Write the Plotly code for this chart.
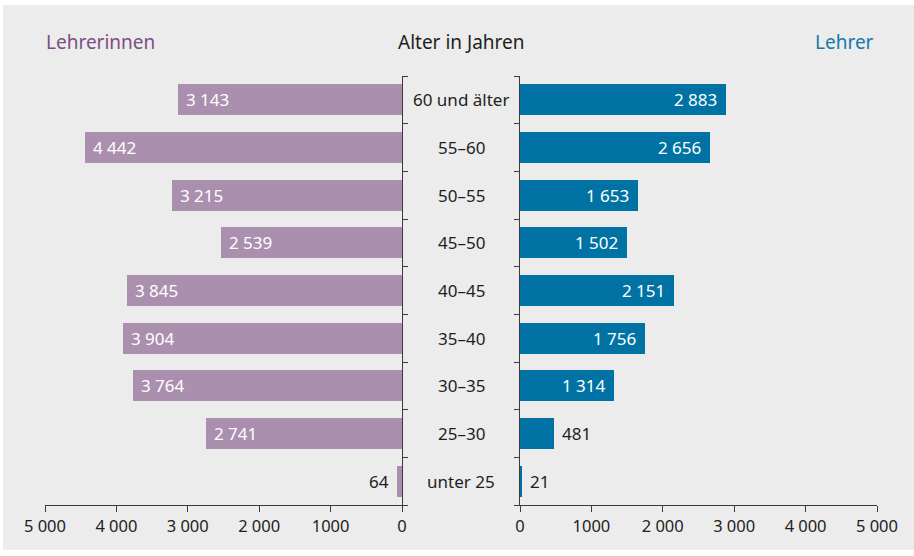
import plotly.graph_objects as go

W, H = 914, 556

categories = ["60 und älter", "55–60", "50–55", "45–50", "40–45", "35–40", "30–35", "25–30", "unter 25"]
women = [3143, 4442, 3215, 2539, 3845, 3904, 3764, 2741, 64]
men = [2883, 2656, 1653, 1502, 2151, 1756, 1314, 481, 21]
tick_vals = [0, 1000, 2000, 3000, 4000, 5000]
tick_text = ["0", "1000", "2\u2005000", "3\u2005000", "4\u2005000", "5\u2005000"]

FONT = "Noto Sans"
PURPLE = "#ab8fae"
BLUE = "#0073a4"
PURPLE_TXT = "#7b4f83"
BLUE_TXT = "#1679a8"
DARK = "#1e1e1e"
AXIS = "#3a3a3a"
BG = "#ebeceb"

def fmt(v):
    return f"{v:,}".replace(",", "\u2005")

ypos = list(range(len(categories)))

def px(x):
    return x / W

def py(y):
    return 1 - y / H

fig = go.Figure()
fig.add_trace(go.Bar(x=women, y=ypos, orientation="h", marker=dict(color=PURPLE, line=dict(width=0)),
                     width=0.65, xaxis="x", yaxis="y", hoverinfo="skip"))
fig.add_trace(go.Bar(x=men, y=ypos, orientation="h", marker=dict(color=BLUE, line=dict(width=0)),
                     width=0.65, xaxis="x2", yaxis="y2", hoverinfo="skip"))

annotations = []
for i, (c, w, m) in enumerate(zip(categories, women, men)):
    annotations.append(dict(x=px(461), xref="paper", y=i, yref="y", text=c, showarrow=False,
                            xanchor="center", yanchor="middle", font=dict(family=FONT, size=17, color=DARK)))
    if w >= 1000:
        annotations.append(dict(x=w, xref="x", y=i, yref="y", text=fmt(w), showarrow=False,
                                xanchor="left", yanchor="middle", xshift=6,
                                font=dict(family=FONT, size=17, color="white")))
    else:
        annotations.append(dict(x=w, xref="x", y=i, yref="y", text=fmt(w), showarrow=False,
                                xanchor="right", yanchor="middle", xshift=-6,
                                font=dict(family=FONT, size=17, color=DARK)))
    if m >= 1000:
        annotations.append(dict(x=m, xref="x2", y=i, yref="y2", text=fmt(m), showarrow=False,
                                xanchor="right", yanchor="middle", xshift=-7,
                                font=dict(family=FONT, size=17, color="white")))
    else:
        annotations.append(dict(x=m, xref="x2", y=i, yref="y2", text=fmt(m), showarrow=False,
                                xanchor="left", yanchor="middle", xshift=6,
                                font=dict(family=FONT, size=17, color=DARK)))

annotations += [
    dict(x=px(44), xref="paper", y=py(42), yref="paper", text="Lehrerinnen", showarrow=False,
         xanchor="left", yanchor="middle", font=dict(family=FONT, size=19, color=PURPLE_TXT)),
    dict(x=px(461), xref="paper", y=py(42), yref="paper", text="Alter in Jahren", showarrow=False,
         xanchor="center", yanchor="middle", font=dict(family=FONT, size=19, color=DARK)),
    dict(x=px(876), xref="paper", y=py(42), yref="paper", text="Lehrer", showarrow=False,
         xanchor="right", yanchor="middle", font=dict(family=FONT, size=19, color=BLUE_TXT)),
]

ydom = [py(505), py(76)]
bound_vals = [i - 0.5 for i in range(len(categories) + 1)]
yrange = [len(categories) - 0.5, -0.5]

common_x = dict(showline=True, linecolor=AXIS, linewidth=1.2, ticks="outside", ticklen=6,
                tickcolor=AXIS, tickwidth=1.2, tickvals=tick_vals, ticktext=tick_text,
                showgrid=False, zeroline=False, automargin=False,
                tickfont=dict(family=FONT, size=16.5, color=DARK))
common_y = dict(showline=True, linecolor=AXIS, linewidth=1.2, ticks="outside", ticklen=5,
                tickcolor=AXIS, tickwidth=1.2, tickvals=bound_vals, showticklabels=False,
                showgrid=False, zeroline=False, automargin=False, range=yrange, domain=ydom)

fig.update_layout(
    template="none",
    width=W, height=H,
    autosize=False,
    margin=dict(l=0, r=0, t=0, b=0, pad=0),
    paper_bgcolor="white",
    plot_bgcolor="rgba(0,0,0,0)",
    showlegend=False,
    bargap=0,
    xaxis=dict(domain=[px(45), px(402)], range=[5000, 0], anchor="y", **common_x),
    xaxis2=dict(domain=[px(520), px(877)], range=[0, 5000], anchor="y2", **common_x),
    yaxis=dict(anchor="x", side="right", **common_y),
    yaxis2=dict(anchor="x2", side="left", **common_y),
    annotations=annotations,
    shapes=[dict(type="rect", xref="paper", yref="paper", x0=px(3), x1=1, y0=py(550), y1=py(5),
                 fillcolor=BG, line=dict(width=0), layer="below")],
)

fig.write_html("out.html", config={"displayModeBar": False},
               post_script="document.body.style.margin='0';")
